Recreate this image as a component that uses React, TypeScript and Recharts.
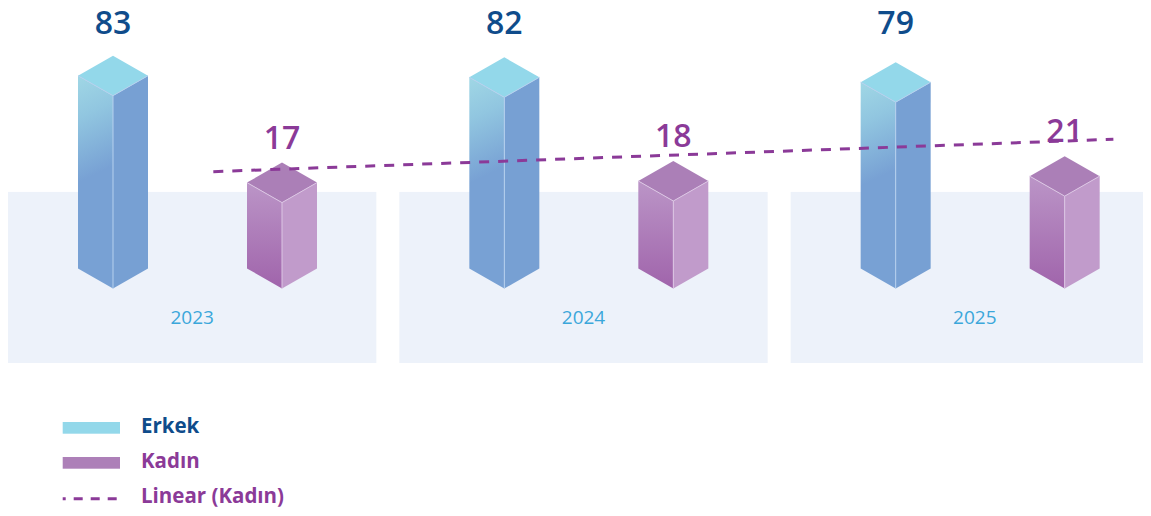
import React from 'react';
import {
  BarChart,
  Bar,
  LineChart,
  Line,
  XAxis,
  YAxis,
  ReferenceArea,
  LabelList,
  Legend,
} from 'recharts';

// ---- data ----
const years = ['2023', '2024', '2025'];
const erkek = [83, 82, 79];
const kadin = [17, 18, 21];
const seriesNames = ['Erkek', 'Kadın', 'Linear (Kadın)'];
// trend line end points (category index, value)
const trendX = [0.04, 2.34];
const trendY = [16.74, 21.33];

const data = years.map((year, i) => ({ year, erkek: erkek[i], kadin: kadin[i] }));
const trendData = trendX.map((x, i) => ({ x, y: trendY[i] }));

// ---- scale settings ----
const Y_DOMAIN: [number, number] = [-82, 118];
const BAR_BASE = -36;
const PANEL_TOP = 23.6;
const TREND_X_DOMAIN: [number, number] = [-0.5, 2.5];
const TREND_Y_DOMAIN: [number, number] = [-10.4, 35.55];

const W = 1143;
const H = 516;
const MARGIN = { top: 39, right: -25, bottom: 153, left: -6 };

const FONT = '"Open Sans", "DejaVu Sans", sans-serif';
const BLUE_TEXT = '#0f4c8b';
const PURPLE = '#8b3a98';
const ISO = 20;
const LABEL_MIN_Y = 34;

type PrismColors = { top: string; left: string; right: string; edge: string };
const M_COLORS: PrismColors = { top: '#93d8ea', left: 'url(#gradM)', right: '#77a0d3', edge: '#b6d0ee' };
const F_COLORS: PrismColors = { top: '#ab7fb7', left: 'url(#gradF)', right: '#c19bcb', edge: '#dcc6e4' };

const makePrism = (c: PrismColors) => (props: any) => {
  const { x, y, width, height } = props;
  if (x == null || y == null || !isFinite(y) || !isFinite(height)) return <g />;
  const w = width;
  const cx = x + w / 2;
  const yb = y + height;
  const d = ISO;
  const top = `${x},${y - d} ${cx},${y - 2 * d} ${x + w},${y - d} ${cx},${y}`;
  const left = `${x},${y - d} ${cx},${y} ${cx},${yb} ${x},${yb - d}`;
  const right = `${cx},${y} ${x + w},${y - d} ${x + w},${yb - d} ${cx},${yb}`;
  return (
    <g>
      <polygon points={left} fill={c.left} />
      <polygon points={right} fill={c.right} />
      <polygon points={top} fill={c.top} />
      <polyline points={`${x},${y - d} ${cx},${y} ${x + w},${y - d}`} fill="none" stroke={c.edge} strokeWidth={1} />
      <line x1={cx} y1={y} x2={cx} y2={yb} stroke={c.edge} strokeWidth={1} />
    </g>
  );
};

const ErkekPrism = makePrism(M_COLORS);
const KadinPrism = makePrism(F_COLORS);

const makeValueLabel = (color: string, offset: number) => (props: any) => {
  const { x, y, width, value } = props;
  return (
    <text
      x={x + width / 2}
      y={Math.max(y - offset, LABEL_MIN_Y)}
      textAnchor="middle"
      fill={color}
      fontFamily={FONT}
      fontWeight={600}
      fontSize={32}
    >
      {value}
    </text>
  );
};

const PANEL_INSET = 6;
const PANEL_SHRINK = 23;

const PanelShape = (props: any) => {
  const { x, y, width, height } = props;
  return <rect x={x + PANEL_INSET} y={y} width={width - PANEL_SHRINK} height={height} fill="#edf2fa" />;
};

const YearLabel = (props: any) => {
  const vb = props.viewBox || {};
  const cx = vb.x + PANEL_INSET + (vb.width - PANEL_SHRINK) / 2;
  return (
    <text x={cx} y={vb.y + vb.height - 39} textAnchor="middle" fill="#3ba7da" fontFamily={FONT} fontSize={19}>
      {props.value}
    </text>
  );
};

const LegendContent = () => (
  <svg width={320} height={105} style={{ display: 'block' }}>
    <rect x={54.7} y={14} width={57.3} height={11.7} fill="#93d8ea" />
    <text x={133} y={25.3} fill={BLUE_TEXT} fontFamily={FONT} fontWeight={700} fontSize={20.5}>
      {seriesNames[0]}
    </text>
    <rect x={54.7} y={49} width={57.3} height={11.7} fill="#ad80b8" />
    <text x={133} y={60.3} fill={PURPLE} fontFamily={FONT} fontWeight={700} fontSize={20.5}>
      {seriesNames[1]}
    </text>
    <line
      x1={54.7}
      y1={90.7}
      x2={112}
      y2={90.7}
      stroke={PURPLE}
      strokeWidth={3}
      strokeDasharray="9 8"
      strokeDashoffset={6}
    />
    <text x={133} y={95.3} fill={PURPLE} fontFamily={FONT} fontWeight={700} fontSize={20.5}>
      {seriesNames[2]}
    </text>
  </svg>
);

export default function App() {
  return (
    <div style={{ position: 'relative', width: W, height: H, marginTop: -8 }}>
      <BarChart width={W} height={H} data={data} margin={MARGIN} barSize={70} barGap={99}>
        <defs>
          <linearGradient id="gradM" x1="0" y1="0" x2="0.04" y2="0.5">
            <stop offset="0" stopColor="#a0d7e5" />
            <stop offset="0.4" stopColor="#91c6e0" />
            <stop offset="1" stopColor="#78a1d4" />
          </linearGradient>
          <linearGradient id="gradF" x1="0" y1="0" x2="0" y2="1">
            <stop offset="0" stopColor="#bb95c7" />
            <stop offset="1" stopColor="#a064ab" />
          </linearGradient>
        </defs>
        <XAxis dataKey="year" hide />
        <YAxis domain={Y_DOMAIN} hide allowDataOverflow />
        {years.map((yr) => (
          <ReferenceArea
            key={yr}
            x1={yr}
            x2={yr}
            y1={Y_DOMAIN[0]}
            y2={PANEL_TOP}
            ifOverflow="visible"
            shape={PanelShape}
            label={{ value: yr, content: YearLabel }}
          />
        ))}
        <Bar
          name={seriesNames[0]}
          dataKey={(d: any) => [BAR_BASE, d.erkek]}
          fill="#93d8ea"
          shape={ErkekPrism}
          isAnimationActive={false}
        >
          <LabelList dataKey="erkek" content={makeValueLabel(BLUE_TEXT, 70)} />
        </Bar>
        <Bar
          name={seriesNames[1]}
          dataKey={(d: any) => [BAR_BASE, d.kadin]}
          fill="#ad80b8"
          shape={KadinPrism}
          isAnimationActive={false}
        >
          <LabelList dataKey="kadin" content={makeValueLabel(PURPLE, 54)} />
        </Bar>
        <Legend
          layout="vertical"
          align="center"
          verticalAlign="middle"
          content={LegendContent}
          wrapperStyle={{ left: 0, top: 408, width: 320, height: 105 }}
        />
      </BarChart>
      <div style={{ position: 'absolute', left: 0, top: 0, pointerEvents: 'none' }}>
        <LineChart width={W} height={H} data={trendData} margin={MARGIN}>
          <XAxis dataKey="x" type="number" domain={TREND_X_DOMAIN} hide allowDataOverflow />
          <YAxis domain={TREND_Y_DOMAIN} hide allowDataOverflow />
          <Line
            name={seriesNames[2]}
            dataKey="y"
            stroke={PURPLE}
            strokeWidth={3}
            strokeDasharray="10 9"
            dot={false}
            activeDot={false}
            isAnimationActive={false}
          />
        </LineChart>
      </div>
    </div>
  );
}
